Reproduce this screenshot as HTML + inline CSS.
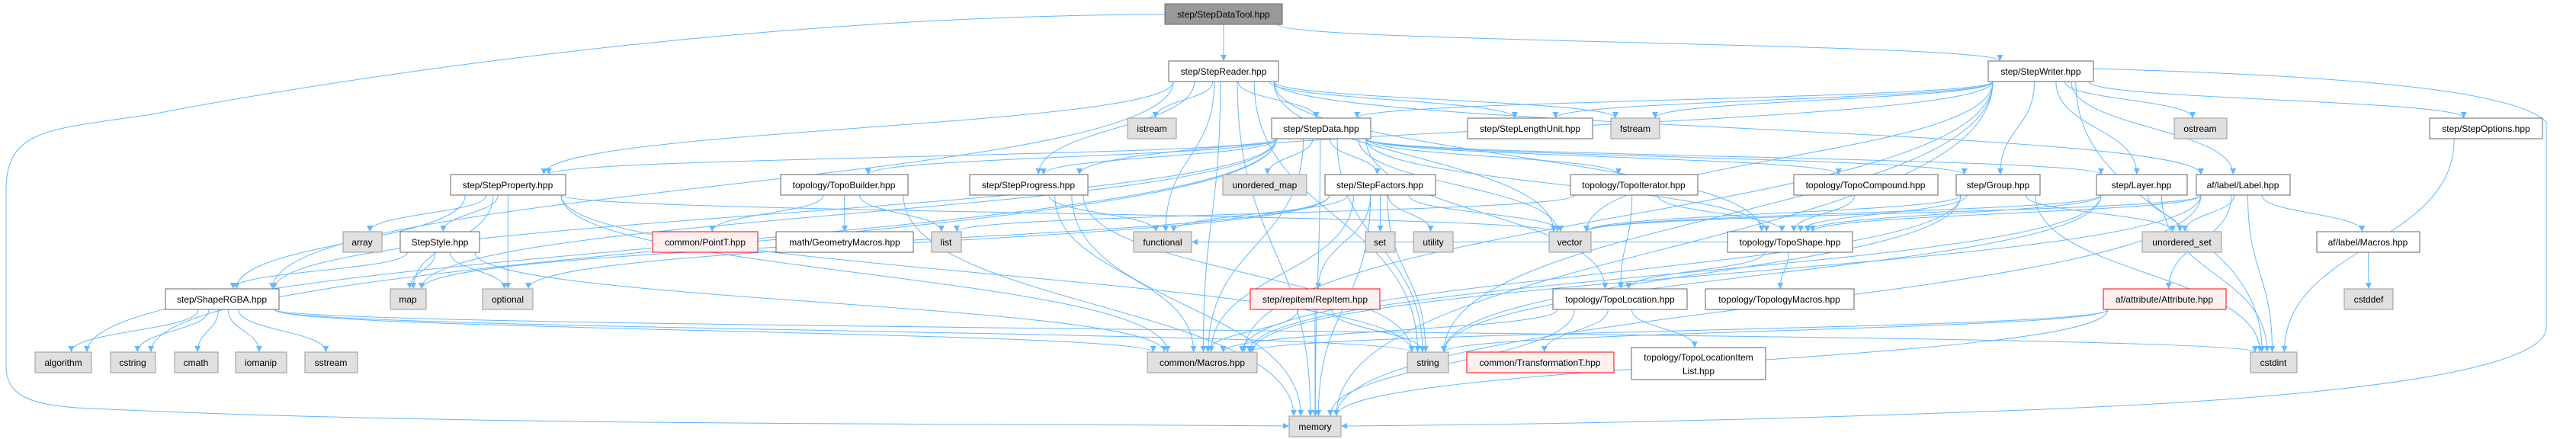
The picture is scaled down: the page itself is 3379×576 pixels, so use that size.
<!DOCTYPE html>
<html><head><meta charset="utf-8">
<style>
html,body{margin:0;padding:0;background:#fff;}
svg{display:block;}
text{font-family:"Liberation Sans",Arial,sans-serif;font-size:12px;fill:#000;}
</style></head>
<body>
<svg id="g" width="3379" height="576" viewBox="0 0 3379 576" xmlns="http://www.w3.org/2000/svg">
<defs>
<marker id="ah" viewBox="0 0 10 10" refX="10" refY="5" markerWidth="10" markerHeight="8" orient="auto" markerUnits="userSpaceOnUse">
<path d="M0,0 L10,5 L0,10 z" fill="#63b8ff"/>
</marker>
</defs>
<g id="edges" fill="none" stroke="#63b8ff" stroke-width="1"></g>
<g id="nodes">
<rect x="1528" y="5" width="154" height="27" fill="#999" stroke="#666"/><text x="1605" y="23" text-anchor="middle">step/StepDataTool.hpp</text>
<rect x="1533" y="80" width="144" height="27" fill="#fff" stroke="#666"/><text x="1605" y="98" text-anchor="middle">step/StepReader.hpp</text>
<rect x="2608" y="80" width="138" height="27" fill="#fff" stroke="#666"/><text x="2677" y="98" text-anchor="middle">step/StepWriter.hpp</text>
<rect x="1479" y="155" width="64" height="27" fill="#e0e0e0" stroke="#999"/><text x="1511" y="173" text-anchor="middle">istream</text>
<rect x="1668" y="155" width="130" height="27" fill="#fff" stroke="#666"/><text x="1733" y="173" text-anchor="middle">step/StepData.hpp</text>
<rect x="1925" y="155" width="164" height="27" fill="#fff" stroke="#666"/><text x="2007" y="173" text-anchor="middle">step/StepLengthUnit.hpp</text>
<rect x="2113" y="155" width="64" height="27" fill="#e0e0e0" stroke="#999"/><text x="2145" y="173" text-anchor="middle">fstream</text>
<rect x="2852" y="155" width="69" height="27" fill="#e0e0e0" stroke="#999"/><text x="2886" y="173" text-anchor="middle">ostream</text>
<rect x="3187" y="155" width="148" height="27" fill="#fff" stroke="#666"/><text x="3261" y="173" text-anchor="middle">step/StepOptions.hpp</text>
<rect x="591" y="229" width="151" height="27" fill="#fff" stroke="#666"/><text x="666" y="247" text-anchor="middle">step/StepProperty.hpp</text>
<rect x="1024" y="229" width="167" height="27" fill="#fff" stroke="#666"/><text x="1107" y="247" text-anchor="middle">topology/TopoBuilder.hpp</text>
<rect x="1272" y="229" width="155" height="27" fill="#fff" stroke="#666"/><text x="1349" y="247" text-anchor="middle">step/StepProgress.hpp</text>
<rect x="1604" y="229" width="110" height="27" fill="#e0e0e0" stroke="#999"/><text x="1659" y="247" text-anchor="middle">unordered_map</text>
<rect x="1738" y="229" width="145" height="27" fill="#fff" stroke="#666"/><text x="1810" y="247" text-anchor="middle">step/StepFactors.hpp</text>
<rect x="2060" y="229" width="167" height="27" fill="#fff" stroke="#666"/><text x="2143" y="247" text-anchor="middle">topology/TopoIterator.hpp</text>
<rect x="2353" y="229" width="189" height="27" fill="#fff" stroke="#666"/><text x="2447" y="247" text-anchor="middle">topology/TopoCompound.hpp</text>
<rect x="2566" y="229" width="110" height="27" fill="#fff" stroke="#666"/><text x="2621" y="247" text-anchor="middle">step/Group.hpp</text>
<rect x="2750" y="229" width="119" height="27" fill="#fff" stroke="#666"/><text x="2809" y="247" text-anchor="middle">step/Layer.hpp</text>
<rect x="2881" y="229" width="123" height="27" fill="#fff" stroke="#666"/><text x="2942" y="247" text-anchor="middle">af/label/Label.hpp</text>
<rect x="450" y="304" width="51" height="27" fill="#e0e0e0" stroke="#999"/><text x="475" y="322" text-anchor="middle">array</text>
<rect x="525" y="304" width="104" height="27" fill="#fff" stroke="#666"/><text x="577" y="322" text-anchor="middle">StepStyle.hpp</text>
<rect x="856" y="304" width="138" height="27" fill="#fff0f0" stroke="#f00"/><text x="925" y="322" text-anchor="middle">common/PointT.hpp</text>
<rect x="1018" y="304" width="180" height="27" fill="#fff" stroke="#666"/><text x="1108" y="322" text-anchor="middle">math/GeometryMacros.hpp</text>
<rect x="1222" y="304" width="39" height="27" fill="#e0e0e0" stroke="#999"/><text x="1241" y="322" text-anchor="middle">list</text>
<rect x="1487" y="304" width="76" height="27" fill="#e0e0e0" stroke="#999"/><text x="1525" y="322" text-anchor="middle">functional</text>
<rect x="1791" y="304" width="39" height="27" fill="#e0e0e0" stroke="#999"/><text x="1810" y="322" text-anchor="middle">set</text>
<rect x="1854" y="304" width="52" height="27" fill="#e0e0e0" stroke="#999"/><text x="1880" y="322" text-anchor="middle">utility</text>
<rect x="2032" y="304" width="55" height="27" fill="#e0e0e0" stroke="#999"/><text x="2059" y="322" text-anchor="middle">vector</text>
<rect x="2266" y="304" width="164" height="27" fill="#fff" stroke="#666"/><text x="2348" y="322" text-anchor="middle">topology/TopoShape.hpp</text>
<rect x="2810" y="304" width="104" height="27" fill="#e0e0e0" stroke="#999"/><text x="2862" y="322" text-anchor="middle">unordered_set</text>
<rect x="3039" y="304" width="135" height="27" fill="#fff" stroke="#666"/><text x="3106" y="322" text-anchor="middle">af/label/Macros.hpp</text>
<rect x="217" y="379" width="149" height="27" fill="#fff" stroke="#666"/><text x="291" y="397" text-anchor="middle">step/ShapeRGBA.hpp</text>
<rect x="512" y="379" width="47" height="27" fill="#e0e0e0" stroke="#999"/><text x="535" y="397" text-anchor="middle">map</text>
<rect x="633" y="379" width="66" height="27" fill="#e0e0e0" stroke="#999"/><text x="666" y="397" text-anchor="middle">optional</text>
<rect x="1640" y="379" width="170" height="27" fill="#fff0f0" stroke="#f00"/><text x="1725" y="397" text-anchor="middle">step/repitem/RepItem.hpp</text>
<rect x="2037" y="379" width="176" height="27" fill="#fff" stroke="#666"/><text x="2125" y="397" text-anchor="middle">topology/TopoLocation.hpp</text>
<rect x="2237" y="379" width="195" height="27" fill="#fff" stroke="#666"/><text x="2334" y="397" text-anchor="middle">topology/TopologyMacros.hpp</text>
<rect x="2759" y="379" width="161" height="27" fill="#fff0f0" stroke="#f00"/><text x="2839" y="397" text-anchor="middle">af/attribute/Attribute.hpp</text>
<rect x="3075" y="379" width="64" height="27" fill="#e0e0e0" stroke="#999"/><text x="3107" y="397" text-anchor="middle">cstddef</text>
<rect x="46" y="462" width="74" height="27" fill="#e0e0e0" stroke="#999"/><text x="83" y="480" text-anchor="middle">algorithm</text>
<rect x="145" y="462" width="59" height="27" fill="#e0e0e0" stroke="#999"/><text x="174" y="480" text-anchor="middle">cstring</text>
<rect x="229" y="462" width="57" height="27" fill="#e0e0e0" stroke="#999"/><text x="257" y="480" text-anchor="middle">cmath</text>
<rect x="309" y="462" width="67" height="27" fill="#e0e0e0" stroke="#999"/><text x="342" y="480" text-anchor="middle">iomanip</text>
<rect x="400" y="462" width="69" height="27" fill="#e0e0e0" stroke="#999"/><text x="434" y="480" text-anchor="middle">sstream</text>
<rect x="1505" y="462" width="144" height="27" fill="#e0e0e0" stroke="#999"/><text x="1577" y="480" text-anchor="middle">common/Macros.hpp</text>
<rect x="1846" y="462" width="54" height="27" fill="#e0e0e0" stroke="#999"/><text x="1873" y="480" text-anchor="middle">string</text>
<rect x="1924" y="462" width="193" height="27" fill="#fff0f0" stroke="#f00"/><text x="2020" y="480" text-anchor="middle">common/TransformationT.hpp</text>
<rect x="2140" y="456" width="176" height="42" fill="#fff" stroke="#666"/><text x="2228" y="473" text-anchor="middle">topology/TopoLocationItem</text><text x="2228" y="491" text-anchor="middle">List.hpp</text>
<rect x="2952" y="462" width="61" height="27" fill="#e0e0e0" stroke="#999"/><text x="2982" y="480" text-anchor="middle">cstdint</text>
<rect x="1691" y="546" width="68" height="27" fill="#e0e0e0" stroke="#999"/><text x="1725" y="564" text-anchor="middle">memory</text>
</g>
</svg>
<script>
var N={
A:[1528,1682,5,27],SR:[1533,1677,80,27],SW:[2608,2746,80,27],istream:[1479,1543,155,27],SD:[1668,1798,155,27],
SLU:[1925,2089,155,27],fstream:[2113,2177,155,27],ostream:[2852,2921,155,27],SO:[3187,3335,155,27],
SP:[591,742,229,27],TB:[1024,1191,229,27],SPr:[1272,1427,229,27],umap:[1604,1714,229,27],SF:[1738,1883,229,27],
TI:[2060,2227,229,27],TC:[2353,2542,229,27],G:[2566,2676,229,27],L:[2750,2869,229,27],LB:[2881,3004,229,27],
array:[450,501,304,27],SS:[525,629,304,27],PT:[856,994,304,27],GM:[1018,1198,304,27],list:[1222,1261,304,27],
functional:[1487,1563,304,27],set:[1791,1830,304,27],utility:[1854,1906,304,27],vector:[2032,2087,304,27],
TS:[2266,2430,304,27],uset:[2810,2914,304,27],LM:[3039,3174,304,27],RGBA:[217,366,379,27],map:[512,559,379,27],
optional:[633,699,379,27],RI:[1640,1810,379,27],TL:[2037,2213,379,27],TM:[2237,2432,379,27],AT:[2759,2920,379,27],
cstddef:[3075,3139,379,27],algorithm:[46,120,462,27],cstring:[145,204,462,27],cmath:[229,286,462,27],
iomanip:[309,376,462,27],sstream:[400,469,462,27],CM:[1505,1649,462,27],string:[1846,1900,462,27],
TT:[1924,2117,462,27],TLI:[2140,2316,456,42],cstdint:[2952,3013,462,27],memory:[1691,1759,546,27]};
var E=[["A","SR"],["A","SW"],
["SR","istream"],["SR","SD"],["SR","functional"],["SR","SLU"],["SR","fstream"],["SR","SP"],["SR","vector"],["SR","string"],["SR","CM"],["SR","memory"],["SR","RGBA"],["SR","TS"],["SR","LB"],["SR","SPr"],
["SD","umap"],["SD","SF"],["SD","SP"],["SD","TB"],["SD","SPr"],["SD","TI"],["SD","TC"],["SD","G"],["SD","L"],["SD","TS"],["SD","TL"],["SD","vector"],["SD","string"],["SD","CM"],["SD","memory"],["SD","map"],["SD","cstring"],["SD","algorithm"],["SD","RGBA"],
["SW","fstream"],["SW","ostream"],["SW","SO"],["SW","SD"],["SW","SLU"],["SW","SPr"],["SW","G"],["SW","L"],["SW","LB"],["SW","vector"],["SW","cstdint"],["SW","memory"],["SW","string"],["SW","CM"],
["SP","array"],["SP","SS"],["SP","RGBA"],["SP","map"],["SP","optional"],["SP","vector"],["SP","string"],["SP","CM"],
["SS","RGBA"],["SS","map"],["SS","optional"],["SS","CM"],
["RGBA","algorithm"],["RGBA","cstring"],["RGBA","cmath"],["RGBA","iomanip"],["RGBA","sstream"],["RGBA","CM"],["RGBA","string"],["RGBA","cstdint"],
["TB","PT"],["TB","GM"],["TB","list"],["TB","memory"],
["SPr","functional"],["SPr","CM"],["SPr","memory"],["SPr","string"],
["SF","set"],["SF","utility"],["SF","vector"],["SF","functional"],["SF","RI"],["SF","string"],["SF","memory"],["SF","CM"],["SF","map"],["SF","optional"],
["RI","CM"],["RI","string"],["RI","memory"],
["TI","TS"],["TI","TL"],["TI","list"],["TC","TS"],
["G","TS"],["G","vector"],["G","string"],["G","CM"],["G","cstdint"],["G","uset"],
["L","TS"],["L","uset"],["L","vector"],["L","CM"],["L","string"],["L","cstdint"],
["LB","uset"],["LB","LM"],["LB","AT"],["LB","cstdint"],["LB","memory"],["LB","TS"],["LB","CM"],["LB","vector"],
["LM","cstddef"],["TS","TL"],["TS","TM"],["TS","functional"],
["TL","TT"],["TL","TLI"],["TL","CM"],["TL","memory"],
["AT","CM"],["AT","string"],["AT","memory"],["SO","cstdint"]];
var g=document.getElementById("edges"),d="";
function cx(n){return (n[0]+n[1])/2;}
E.forEach(function(e){
 var s=N[e[0]],t=N[e[1]];
 var tx=cx(t),sxc=cx(s),p;
 if(t[2]>s[2]+5){
  var sx=sxc+(tx-sxc)*0.15; sx=Math.max(s[0]+6,Math.min(s[1]-6,sx));
  var sy=s[2]+s[3],ty=t[2];
  var txx=tx+(sxc-tx)*0.05; txx=Math.max(t[0]+6,Math.min(t[1]-6,txx));
  var dy=ty-sy;
  p="M"+sx+","+sy+" C"+sx+","+(sy+dy*0.5)+" "+txx+","+(ty-dy*0.5)+" "+txx+","+ty;
 } else {
  var sy2=s[2]+s[3]/2,ty2=t[2]+t[3]/2;
  var sx2=tx>sxc?s[1]:s[0],ex=tx>sxc?t[0]:t[1];
  p="M"+sx2+","+sy2+" C"+((sx2+ex)/2)+","+sy2+" "+((sx2+ex)/2)+","+ty2+" "+ex+","+ty2;
 }
 d+='<path d="'+p+'" marker-end="url(#ah)"/>';
});
d+='<path d="M1528,19 C900,20 300,130 200,150 C60,170 8,170 8,250 L8,480 C8,520 40,530 100,535 C600,560 1300,555 1691,559" marker-end="url(#ah)"/>';
d+='<path d="M2746,90 C3100,100 3300,120 3340,160 L3340,430 C3340,470 3200,520 2600,540 C2200,555 1900,558 1759,559" marker-end="url(#ah)"/>';
g.innerHTML=d;
</script>
</body></html>
